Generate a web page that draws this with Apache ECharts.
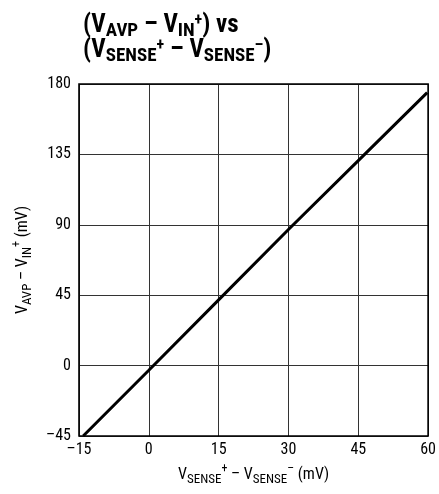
<!DOCTYPE html>
<html><head><meta charset="utf-8">
<script src="https://cdn.jsdelivr.net/npm/echarts@6/dist/echarts.min.js"></script>
<style>html,body{margin:0;padding:0;background:#fff}#c{width:439px;height:494px}</style>
</head><body><div id="c"></div>
<script>
var xTicks = [-15, 0, 15, 30, 45, 60];
var yTicks = [-45, 0, 45, 90, 135, 180];
var xValues = [-14.1, 0, 15, 30, 45, 59.8];
var yValues = [-45, -3, 42, 87, 131, 174.5];

var FONT = '"Liberation Sans Narrow", "Arial Narrow", "Roboto Condensed", "Liberation Sans", sans-serif';
var chart = echarts.init(document.getElementById('c'));
function fmt(v){ return String(v).replace('-', '\u2013'); }
chart.setOption({
  animation: false,
  title: {
    left: 78, top: 8,
    text: '{p|(V}{s|AVP}{p| \u2013 V}{s|IN}{u|+}{p|) vs}\n{p|(V}{s|SENSE}{u|+}{p| \u2013 V}{s|SENSE}{u|\u2013}{p|)}',
    textStyle: {
      fontFamily: FONT,
      rich: {
        p: {fontSize: 25, fontWeight: 'bold', fontFamily: FONT, color: '#000', lineHeight: 25, verticalAlign: 'bottom'},
        s: {fontSize: 19, fontWeight: 'bold', fontFamily: FONT, color: '#000', lineHeight: 25, verticalAlign: 'bottom', padding:[0,0,-3,0]},
        u: {fontSize: 16, fontWeight: 'bold', fontFamily: FONT, color: '#000', lineHeight: 25, verticalAlign: 'top'}
      }
    }
  },
  grid: {left: 79, right: 9, top: 84, bottom: 58},
  xAxis: {
    type: 'value', min: -15, max: 60, interval: 15,
    axisLine: {show: false},
    axisTick: {show: false},
    splitLine: {show: true, lineStyle: {color: '#333', width: 1}},
    axisLabel: {formatter: fmt, color: '#000', fontSize: 16, fontFamily: FONT, margin: 6},
    name: '{p|V}{s|SENSE}{u|+}{p| \u2013 V}{s|SENSE}{u|\u2013}{p| (mV)}',
    nameLocation: 'middle', nameGap: 24,
    nameTextStyle: {
      rich: {
        p: {fontSize: 16, fontFamily: FONT, color: '#000', lineHeight: 20, verticalAlign: 'bottom'},
        s: {fontSize: 13, fontFamily: FONT, color: '#000', lineHeight: 20, verticalAlign: 'bottom', padding:[0,0,-3,0]},
        u: {fontSize: 12, fontFamily: FONT, color: '#000', lineHeight: 20, verticalAlign: 'top'}
      }
    }
  },
  yAxis: {
    type: 'value', min: -45, max: 180, interval: 45,
    axisLine: {show: false},
    axisTick: {show: false},
    splitLine: {show: true, lineStyle: {color: '#333', width: 1}},
    axisLabel: {formatter: fmt, color: '#000', fontSize: 16, fontFamily: FONT, margin: 8},
    name: '{p|V}{s|AVP}{p| \u2013 V}{s|IN}{u|+}{p| (mV)}',
    nameLocation: 'middle', nameGap: 48, nameRotate: 90,
    nameTextStyle: {
      rich: {
        p: {fontSize: 16, fontFamily: FONT, color: '#000', lineHeight: 20, verticalAlign: 'bottom'},
        s: {fontSize: 13, fontFamily: FONT, color: '#000', lineHeight: 20, verticalAlign: 'bottom', padding:[0,0,-3,0]},
        u: {fontSize: 12, fontFamily: FONT, color: '#000', lineHeight: 20, verticalAlign: 'top'}
      }
    }
  },
  graphic: [],
  series: [{
    type: 'line',
    data: xValues.map(function(x, i){ return [x, yValues[i]]; }),
    showSymbol: false,
    lineStyle: {color: '#000', width: 3},
    silent: true,
    z: 5
  }]
});
var p0 = chart.convertToPixel({gridIndex:0}, [-15, -45]);
var p1 = chart.convertToPixel({gridIndex:0}, [60, 180]);
chart.setOption({graphic: [{type: 'rect', shape: {x: p0[0], y: p1[1], width: p1[0]-p0[0], height: p0[1]-p1[1]},
  style: {fill: 'none', stroke: '#000', lineWidth: 1.6}, z: 10, silent: true}]});
</script></body></html>
